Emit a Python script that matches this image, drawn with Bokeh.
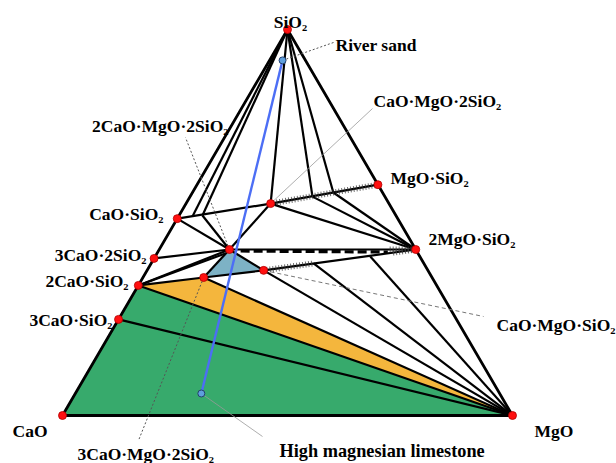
from bokeh.plotting import figure
from bokeh.models import Range1d
from bokeh.core.properties import value
from bokeh.embed import file_html
from bokeh.resources import INLINE

# CaO-MgO-SiO2 system, mass fractions of SiO2 and MgO (CaO is the remainder)
phases = ["SiO2", "CaO", "MgO", "CS", "C3S2", "C2S", "C3S", "MS", "M2S",
          "CMS2", "C2MS2", "C3MS2", "CMS"]
phase_sio2 = [1.000, 0.000, 0.000, 0.510, 0.407, 0.337, 0.249, 0.598, 0.430,
              0.549, 0.430, 0.3575, 0.376]
phase_mgo = [0.000, 0.000, 1.000, 0.000, 0.000, 0.000, 0.000, 0.402, 0.570,
             0.188, 0.156, 0.135, 0.259]

# points where boundary lines meet the joins
junctions = ["J1", "J2", "J3", "J4", "J5", "J6", "P"]
junction_sio2 = [0.5155, 0.518, 0.567, 0.5777, 0.394, 0.412, 0.4197]
junction_mgo = [0.031, 0.052, 0.272, 0.313, 0.361, 0.478, 0.152]

# raw materials
raw_names = ["River sand", "High magnesian limestone"]
raw_sio2 = [0.920, 0.057]
raw_mgo = [0.029, 0.280]

# joins drawn as black lines
joins = [
    ("SiO2", "J1"), ("SiO2", "J2"), ("SiO2", "CMS2"), ("SiO2", "J3"), ("SiO2", "J4"),
    ("CS", "CMS2"), ("CMS2", "MS"),
    ("CS", "C2MS2"), ("J2", "C2MS2"), ("CMS2", "C2MS2"),
    ("CMS2", "M2S"), ("J3", "M2S"), ("J4", "M2S"),
    ("C3S2", "C2MS2"), ("C2S", "C2MS2"), ("C2S", "P"), ("C2S", "C3MS2"),
    ("C2MS2", "C3MS2"), ("C2MS2", "CMS"), ("C3MS2", "CMS"),
    ("C2MS2", "M2S"), ("CMS", "M2S"),
    ("CMS", "MgO"), ("J5", "MgO"), ("J6", "MgO"),
    ("C3MS2", "MgO"), ("C2S", "MgO"), ("C3S", "MgO"),
]
# solid-solution stretches (start, end, fraction start, fraction end)
hatched = [("CMS2", "MS", 0.0, 1.0), ("CMS", "J5", 0.0, 1.0),
           ("CMS", "M2S", 0.85, 1.0), ("C2MS2", "M2S", 0.86, 1.0)]

# triangle geometry on the page (pixels)
X0, Y0, SIDE, HEIGHT = 62.0, 415.0, 450.0, 386.0


def to_xy(s, m):
    return X0 + SIDE * (m + s / 2.0), Y0 - HEIGHT * s


pos = {}
for n, s, m in zip(phases, phase_sio2, phase_mgo):
    pos[n] = to_xy(s, m)
for n, s, m in zip(junctions, junction_sio2, junction_mgo):
    pos[n] = to_xy(s, m)
for n, s, m in zip(raw_names, raw_sio2, raw_mgo):
    pos[n] = to_xy(s, m)


def along(a, b, t):
    (xa, ya), (xb, yb) = pos[a], pos[b]
    return xa + (xb - xa) * t, ya + (yb - ya) * t


p = figure(width=616, height=463, x_range=Range1d(0, 616), y_range=Range1d(463, 0),
           output_backend="svg", toolbar_location=None, min_border=0,
           x_axis_location=None, y_axis_location=None)
p.grid.visible = False
p.outline_line_color = None
p.background_fill_color = "white"

# phase fields
def patch(names, color):
    p.patch([pos[n][0] for n in names], [pos[n][1] for n in names],
            fill_color=color, line_color=None)

patch(["CaO", "C2S", "MgO"], "#37aa6c")
patch(["C2S", "C3MS2", "MgO"], "#f4b63d")
patch(["C2MS2", "C3MS2", "CMS"], "#7db2c5")

# joins
p.multi_line([[pos[a][0], pos[b][0]] for a, b in joins],
             [[pos[a][1], pos[b][1]] for a, b in joins],
             line_color="black", line_width=2.2)

# hatching on solid-solution joins
for a, b, t0, t1 in hatched:
    xa, ya = along(a, b, t0)
    xb, yb = along(a, b, t1)
    p.line([xa, xb], [ya, yb], line_color="#3a3a3a", line_width=6,
           line_dash="1 2", line_alpha=0.75)

# dashed boundary below the akermanite - forsterite join
xa, ya = along("C2MS2", "M2S", 0.06)
xb, yb = along("C2MS2", "M2S", 0.85)
p.line([xa, xb], [ya + 1.5, yb + 2.5], line_color="black", line_width=3.2, line_dash="9 4")

# triangle sides
tri = ["CaO", "SiO2", "MgO", "CaO"]
p.line([pos[n][0] for n in tri], [pos[n][1] for n in tri], line_color="black",
       line_width=2.8, line_join="miter")

# mixing line between the raw materials
p.line([pos[n][0] for n in raw_names], [pos[n][1] for n in raw_names],
       line_color="#4c6ef5", line_width=2.4)

# leader lines
def leader(n, tx, ty, dash, color="#555555", width=1.0):
    p.line([pos[n][0], tx], [pos[n][1], ty], line_color=color, line_width=width,
           line_dash=dash)

leader("River sand", 333, 42, "2 2")
leader("CMS2", 372, 108, "solid", "#999999", 0.8)
leader("C2MS2", 185, 137, "2 2")
leader("C3MS2", 138, 440, "2 2")
leader("CMS", 483, 316, "4 3", "#777777")
leader("High magnesian limestone", 262, 436, "solid", "#999999", 0.8)

# compound points
p.scatter([pos[n][0] for n in phases], [pos[n][1] for n in phases], size=8,
          fill_color="#ff1010", line_color="#b00000", line_width=0.8)
p.scatter([pos[n][0] for n in raw_names], [pos[n][1] for n in raw_names], size=7,
          fill_color="#5f9fdc", line_color="#24406e", line_width=1)

FONT = dict(text_font=value("Liberation Serif"), text_font_style="bold",
            text_color="black", text_baseline="alphabetic")

# labels left-aligned
p.text(x=[335, 373, 390, 428, 496, 12, 534, 77],
       y=[44, 100, 177, 238, 324, 430, 430, 453],
       text=["River sand", "CaO·MgO·2SiO₂", "MgO·SiO₂", "2MgO·SiO₂",
             "CaO·MgO·SiO₂", "CaO", "MgO", "3CaO·MgO·2SiO₂"],
       text_align="left", text_font_size="17.5px", **FONT)
p.text(x=[279], y=[450], text=["High magnesian limestone"],
       text_align="left", text_font_size="18.3px", **FONT)
# labels right-aligned
p.text(x=[228, 163, 146, 128, 112],
       y=[125, 213, 254, 280, 319],
       text=["2CaO·MgO·2SiO₂", "CaO·SiO₂", "3CaO·2SiO₂", "2CaO·SiO₂", "3CaO·SiO₂"],
       text_align="right", text_font_size="17.5px", **FONT)
# apex label
p.text(x=[290], y=[21], text=["SiO₂"], text_align="center", text_font_size="17.5px", **FONT)

open("out.html", "w").write(file_html(p, INLINE))
